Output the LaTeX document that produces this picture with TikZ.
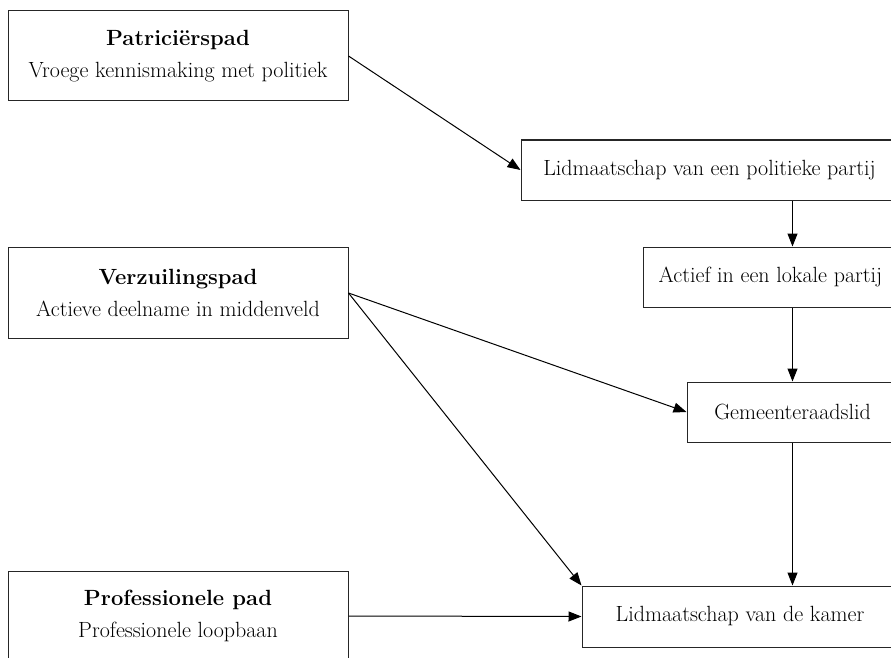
\documentclass[tikz,border=0pt]{standalone}
\usetikzlibrary{arrows.meta}
\begin{document}
\begin{tikzpicture}[x=1pt,y=1pt,
  box/.style={draw=black!85, line width=1pt, fill=white, inner sep=0pt, align=center,
    font=\fontsize{22}{32}\selectfont},
  arr/.style={line width=1pt, -{Triangle[length=13pt,width=10pt]}}]
\useasboundingbox (0,0) rectangle (891,-658);
\clip (0,0) rectangle (891,-658);
\node[box, minimum width=340, minimum height=90] (P) at (178,-56) {\textbf{Patriciërspad}\\Vroege kennismaking met politiek};
\node[box, minimum width=340, minimum height=91] (V) at (178,-293) {\textbf{Verzuilingspad}\\Actieve deelname in middenveld};
\node[box, minimum width=340, minimum height=89] (Pr) at (178,-616) {\textbf{Professionele pad}\\Professionele loopbaan};
\node[box, minimum width=377, minimum height=60] (L) at (709.5,-170) {Lidmaatschap van een politieke partij};
\node[box, minimum width=255, minimum height=60] (A) at (770.5,-277) {Actief in een lokale partij};
\node[box, minimum width=211, minimum height=60] (G) at (792.5,-412) {Gemeenteraadslid};
\node[box, minimum width=316, minimum height=61] (K) at (740,-616.5) {Lidmaatschap van de kamer};
\draw[arr] (P.east) -- (L.west);
\draw[arr] (L.south -| G.north) -- (A.north -| G.north);
\draw[arr] (A.south -| G.north) -- (G.north);
\draw[arr] (G.south) -- (K.north -| G.south);
\draw[arr] (V.east) -- (G.west);
\draw[arr] (V.east) -- (K.north west);
\draw[arr] (Pr.east) -- (K.west);
\end{tikzpicture}
\end{document}
